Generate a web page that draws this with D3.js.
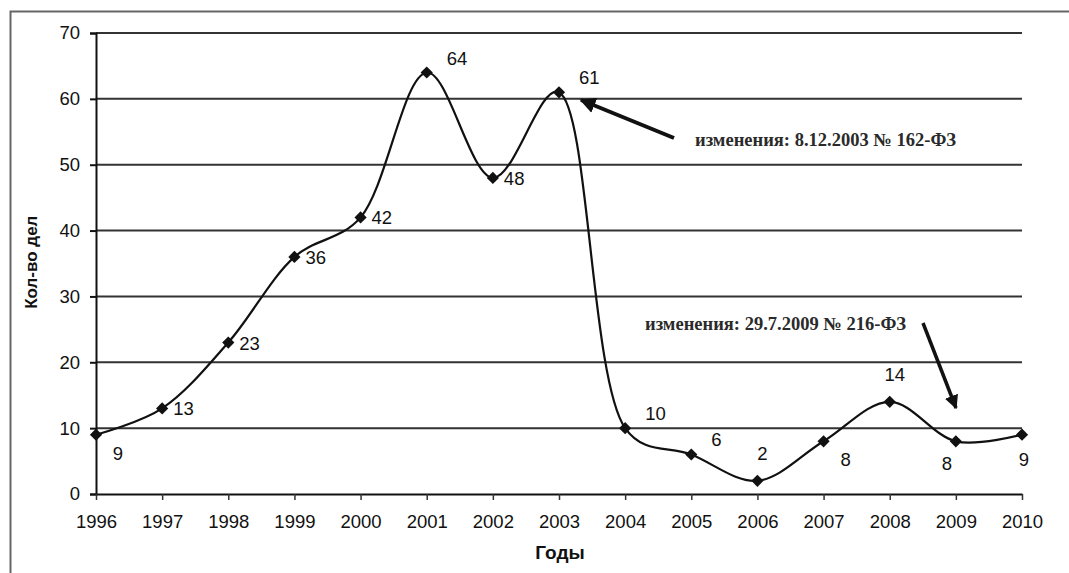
<!DOCTYPE html>
<html>
<head>
<meta charset="utf-8">
<script src="https://cdn.jsdelivr.net/npm/d3@7"></script>
<style>
  html, body { margin: 0; padding: 0; background: #fff; }
  svg { display: block; }
</style>
</head>
<body>
<svg id="chart" width="1069" height="573"></svg>
<script>
// Number of cases per year
const years = [1996, 1997, 1998, 1999, 2000, 2001, 2002, 2003, 2004, 2005, 2006, 2007, 2008, 2009, 2010];
const cases = [9, 13, 23, 36, 42, 64, 48, 61, 10, 6, 2, 8, 14, 8, 9];
// Where each value label sits relative to its point:
// r = right, ur = upper right, br = below right, a = above, b = below left, bc = below
const labelPlace = ["br", "r", "r", "r", "r", "ur", "r", "ur", "ur", "ur", "a", "br", "a", "b", "bc"];
const yTicks = [0, 10, 20, 30, 40, 50, 60, 70];
const noteTexts = ["изменения: 8.12.2003 № 162-ФЗ", "изменения: 29.7.2009 № 216-ФЗ"];
const xTitle = "Годы";
const yTitle = "Кол-во дел";

const svg = d3.select("#chart");
const margin = { left: 96, right: 47, top: 33, bottom: 79 };
const W = 1069, H = 573;
const sans = "Arial, 'Liberation Sans', sans-serif";
const serif = "'Times New Roman', 'Liberation Serif', serif";
const fs = 18.5;

const x = d3.scaleLinear().domain([1996, 2010]).range([margin.left, W - margin.right]);
const y = d3.scaleLinear().domain([0, 70]).range([H - margin.bottom, margin.top]);

// Outer frame
svg.append("rect")
  .attr("x", 10.5).attr("y", 11.5)
  .attr("width", W + 20).attr("height", H + 20)
  .attr("fill", "none").attr("stroke", "#666").attr("stroke-width", 2);

// Horizontal grid lines
svg.append("g").selectAll("line").data(yTicks.filter(d => d > 0)).join("line")
  .attr("x1", x(1996)).attr("x2", x(2010))
  .attr("y1", d => y(d)).attr("y2", d => y(d))
  .attr("stroke", "#333").attr("stroke-width", 2);

// Y axis
const yAxis = d3.axisLeft(y).tickValues(yTicks).tickSize(6).tickPadding(10).tickFormat(d3.format("d"));
svg.append("g").attr("transform", `translate(${x(1996)},0)`).call(yAxis)
  .call(g => g.select(".domain").attr("stroke", "#111").attr("stroke-width", 2))
  .call(g => g.selectAll(".tick line").attr("stroke", "#111").attr("stroke-width", 2))
  .call(g => g.selectAll("text").attr("font-family", sans).attr("font-size", fs).attr("fill", "#111"));

// X axis
const xAxis = d3.axisBottom(x).tickValues(years).tickSize(6).tickSizeOuter(0).tickPadding(15).tickFormat(d3.format("d"));
svg.append("g").attr("transform", `translate(0,${y(0)})`).call(xAxis)
  .call(g => g.select(".domain").attr("stroke", "#111").attr("stroke-width", 2))
  .call(g => g.selectAll(".tick line").attr("stroke", "#333").attr("stroke-width", 1.5))
  .call(g => g.selectAll("text").attr("font-family", sans).attr("font-size", fs).attr("fill", "#111"));

// Axis titles
svg.append("text").attr("x", (x(1996) + x(2010)) / 2 + 1).attr("y", 559)
  .attr("text-anchor", "middle").attr("font-family", sans)
  .attr("font-weight", "bold").attr("font-size", 19).attr("fill", "#111").text(xTitle);
svg.append("text").attr("transform", `translate(37,${y(35.2)}) rotate(-90)`)
  .attr("text-anchor", "middle").attr("font-family", sans)
  .attr("font-weight", "bold").attr("font-size", 17).attr("fill", "#111").text(yTitle);

// Smoothed series line
const pts = years.map((yr, i) => ({ yr, v: cases[i], pos: labelPlace[i] }));
const line = d3.line().x(d => x(d.yr)).y(d => y(d.v)).curve(d3.curveCatmullRom.alpha(0.4));
svg.append("path").datum(pts).attr("d", line)
  .attr("fill", "none").attr("stroke", "#111").attr("stroke-width", 2.2);

// Diamond markers
const diamond = d3.symbol().type(d3.symbolDiamond2).size(95);
svg.append("g").selectAll("path").data(pts).join("path")
  .attr("transform", d => `translate(${x(d.yr)},${y(d.v)})`)
  .attr("d", diamond).attr("fill", "#111");

// Value labels
const offs = {
  r: [11, 7, "start"], ur: [20, -8, "start"], br: [22, 25, "middle"],
  a: [5, -21, "middle"], b: [-9, 29, "middle"], bc: [2, 31, "middle"]
};
svg.append("g").selectAll("text").data(pts).join("text")
  .attr("x", d => x(d.yr) + offs[d.pos][0])
  .attr("y", d => y(d.v) + offs[d.pos][1])
  .attr("text-anchor", d => offs[d.pos][2])
  .attr("font-family", sans).attr("font-size", fs).attr("fill", "#111")
  .text(d => d.v);

// Annotations with arrows
svg.append("defs").append("marker")
  .attr("id", "head").attr("viewBox", "0 0 10 10").attr("refX", 9).attr("refY", 5)
  .attr("markerWidth", 4).attr("markerHeight", 4).attr("orient", "auto")
  .append("path").attr("d", "M0,0 L10,5 L0,10 z").attr("fill", "#111");

const ann = svg.append("g");
// first note: arrow pointing at the 2003 point
ann.append("line")
  .attr("x1", 674).attr("y1", 138).attr("x2", 581).attr("y2", 100)
  .attr("stroke", "#111").attr("stroke-width", 4).attr("marker-end", "url(#head)");
ann.append("text").attr("x", 695).attr("y", 146)
  .attr("font-family", serif).attr("font-weight", "bold").attr("font-size", 18.5).attr("fill", "#2a2a2a")
  .text(noteTexts[0]);
// second note: arrow pointing down to the 2009 point
ann.append("line")
  .attr("x1", 923).attr("y1", 323).attr("x2", 956).attr("y2", 408)
  .attr("stroke", "#111").attr("stroke-width", 3.5).attr("marker-end", "url(#head)");
ann.append("text").attr("x", 645).attr("y", 330)
  .attr("font-family", serif).attr("font-weight", "bold").attr("font-size", 18.5).attr("fill", "#2a2a2a")
  .text(noteTexts[1]);
</script>
</body>
</html>
